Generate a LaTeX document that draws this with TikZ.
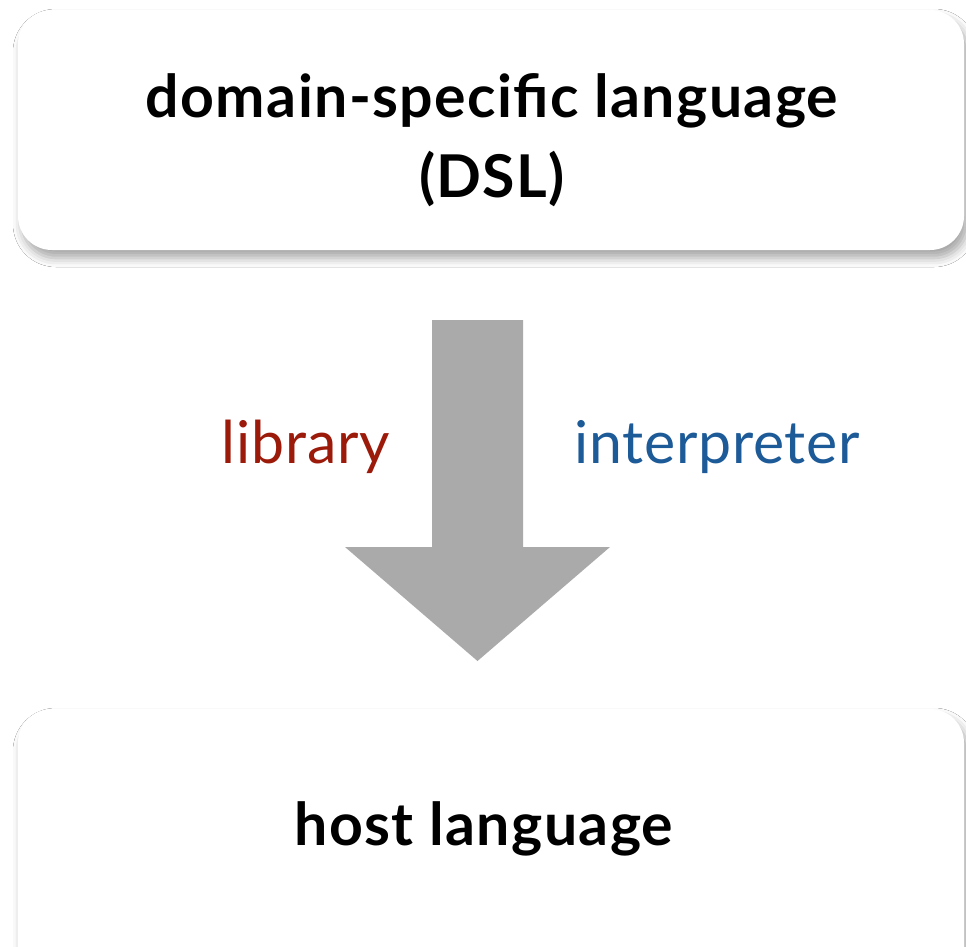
\documentclass[tikz,border=0pt]{standalone}
\usepackage{fontspec}
\setmainfont{Lato}
\newfontfamily\boxfam[LetterSpace=2.3]{Lato}
\newfontfamily\labfam[LetterSpace=1.3]{Lato}
\usetikzlibrary{shadows.blur}
\definecolor{libred}{HTML}{9B1A0A}
\definecolor{intblue}{HTML}{1D5A98}
\definecolor{arrowgray}{HTML}{AAAAAA}
\tikzset{
  card/.style={fill=white, rounded corners=34pt,
    blur shadow={shadow xshift=4pt, shadow yshift=-8pt, shadow blur radius=9pt, shadow opacity=35}},
  boxtext/.style={font=\boxfam\fontsize{59}{80}\selectfont\bfseries, align=center, inner sep=0pt},
  labeltext/.style={font=\labfam\fontsize{59}{60}\selectfont, inner sep=0pt}
}
\begin{document}
\begin{tikzpicture}[x=1pt,y=-1pt]
\useasboundingbox (0,0) rectangle (966,946);
\fill[white] (0,0) rectangle (966,946);
\path[card] (18,10) rectangle (964,250);
\path[card] (18,709) rectangle (964,990);
\node[boxtext, anchor=base] (dsl) at (492,197) {domain-specific language\\(DSL)};
\node[boxtext, anchor=base] (host) at (484,845) {host language};
\fill[arrowgray] (432,320) -- (523,320) -- (523,547) -- (610,547) -- (477.5,661) -- (345,547) -- (432,547) -- cycle;
\node[labeltext, text=libred, anchor=base east] (lib) at (390,463) {library};
\node[labeltext, text=intblue, anchor=base west] (interp) at (574,463) {interpreter};
\end{tikzpicture}
\end{document}
